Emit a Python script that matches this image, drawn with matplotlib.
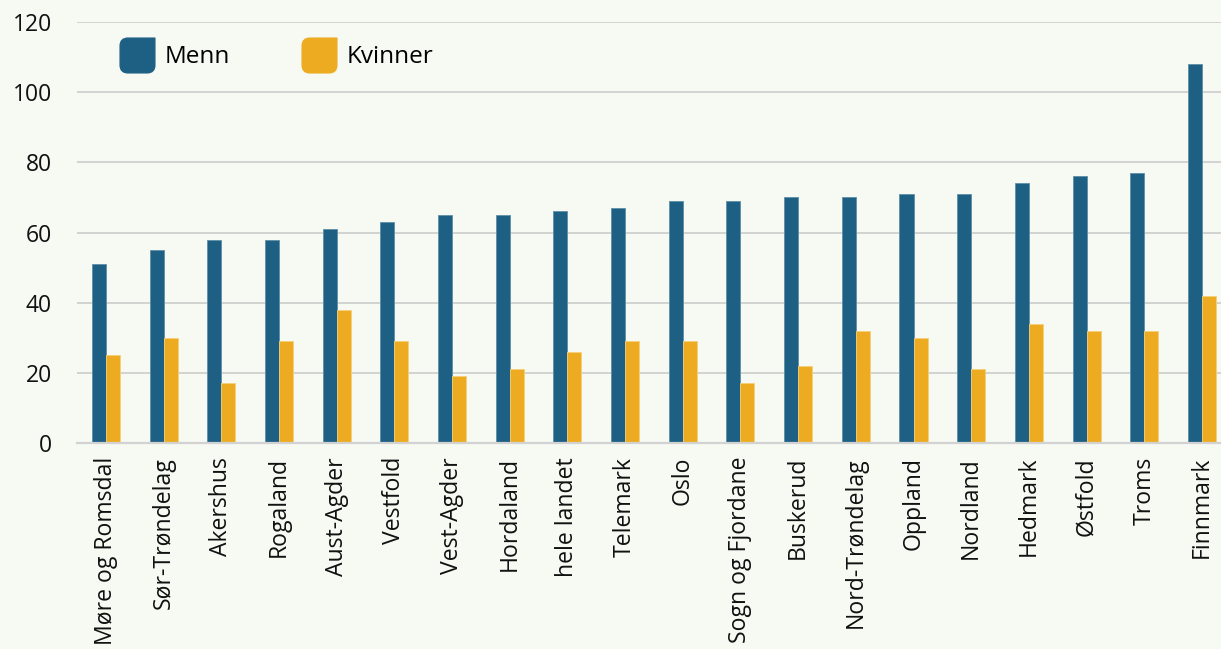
import numpy as np
import matplotlib
matplotlib.use("Agg")
import matplotlib.pyplot as plt
from matplotlib.path import Path
from matplotlib.lines import Line2D

# data
regions = ["Møre og Romsdal", "Sør-Trøndelag", "Akershus", "Rogaland", "Aust-Agder",
           "Vestfold", "Vest-Agder", "Hordaland", "hele landet", "Telemark", "Oslo",
           "Sogn og Fjordane", "Buskerud", "Nord-Trøndelag", "Oppland", "Nordland",
           "Hedmark", "Østfold", "Troms", "Finnmark"]
menn = [51, 55, 58, 58, 61, 63, 65, 65, 66, 67, 69, 69, 70, 70, 71, 71, 74, 76, 77, 108]
kvinner = [25, 30, 17, 29, 38, 29, 19, 21, 26, 29, 29, 17, 22, 32, 30, 21, 34, 32, 32, 42]
yticks = [0, 20, 40, 60, 80, 100, 120]

BLUE = "#1D6083"
ORANGE = "#EDAB22"
BG = "#F7F9F3"

plt.rcParams["font.family"] = ["Open Sans", "DejaVu Sans"]

fig = plt.figure(figsize=(12.21, 6.49), dpi=100, facecolor=BG)
ax = fig.add_axes([77 / 1221, (649 - 443) / 649, 1 - 77 / 1221, (443 - 22) / 649])
ax.set_facecolor(BG)

x = np.arange(len(regions))
w = 0.243
ax.bar(x - w / 2, menn, w, color=BLUE, edgecolor="#5f8fa8", linewidth=0.6, zorder=3)
ax.bar(x + w / 2, kvinner, w, color=ORANGE, edgecolor="#f5cf7a", linewidth=0.6, zorder=3)

ax.set_ylim(0, 120)
ax.set_xlim(-0.5, 19.33)
ax.set_yticks(yticks)
ax.set_yticklabels([str(v) for v in yticks], fontsize=16.5, color="#111111")
ax.set_xticks(x)
ax.set_xticklabels(regions, rotation=90, fontsize=16.6, color="#111111", va="top", ha="center")
ax.tick_params(axis="both", length=0)
ax.tick_params(axis="y", pad=18)
ax.tick_params(axis="x", pad=10)
ax.grid(axis="y", color="#D2D2D2", linewidth=1.4, zorder=0)
for s in ["top", "right", "left"]:
    ax.spines[s].set_visible(False)
ax.spines["bottom"].set_color("#D2D2D2")
ax.spines["bottom"].set_linewidth(1.6)
ax.spines["bottom"].set_zorder(4)

# leaf-shaped legend marker (sharp top-right corner)
r = 0.45
verts = [(1, 1), (1, -1 + r), (1, -1), (1 - r, -1), (-1 + r, -1), (-1, -1), (-1, -1 + r),
         (-1, 1 - r), (-1, 1), (-1 + r, 1), (1, 1), (1, 1)]
codes = [Path.MOVETO, Path.LINETO, Path.CURVE3, Path.CURVE3, Path.LINETO, Path.CURVE3,
         Path.CURVE3, Path.LINETO, Path.CURVE3, Path.CURVE3, Path.LINETO, Path.CLOSEPOLY]
leaf = Path(verts, codes)

handles = [Line2D([], [], linestyle="none", marker=leaf, markersize=25,
                  markerfacecolor=BLUE, markeredgecolor=BLUE),
           Line2D([], [], linestyle="none", marker=leaf, markersize=25,
                  markerfacecolor=ORANGE, markeredgecolor=ORANGE)]
ax.legend(handles, ["Menn", "Kvinner"], loc="upper left", bbox_to_anchor=(0.017, 0.997),
          ncol=2, frameon=False, fontsize=17.5, handletextpad=0.4, columnspacing=2.9,
          handlelength=1.5)

fig.savefig("out.png", dpi=100, facecolor=BG)
